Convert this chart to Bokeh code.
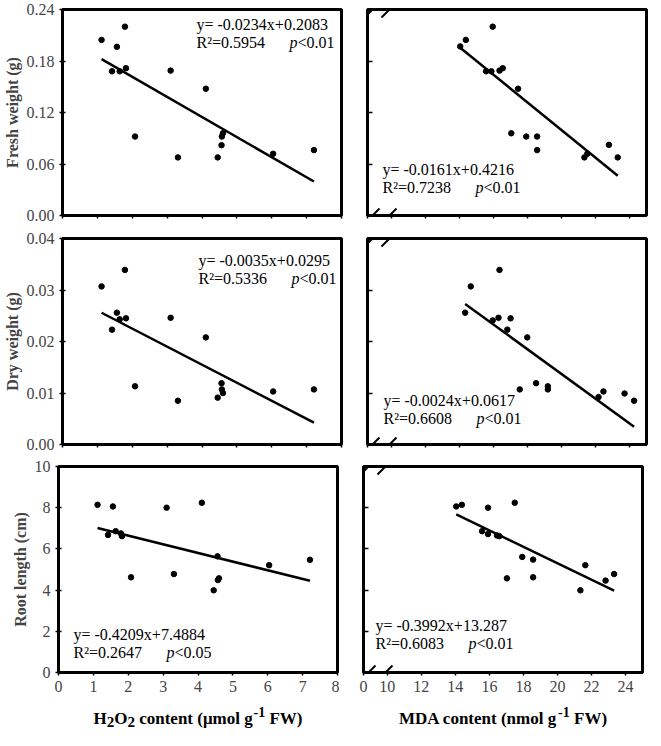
from bokeh.plotting import figure
from bokeh.layouts import column, row
from bokeh.models import (Label, Arrow, FixedTicker, CustomJSTickFormatter,
                          NumeralTickFormatter, Range1d)
from bokeh.embed import file_html
from bokeh.resources import INLINE

# ---------------- data ----------------
h2o2 = [1.12, 1.42, 1.56, 1.64, 1.79, 1.82, 2.08, 3.10, 3.31, 4.11, 4.45, 4.56, 4.57, 4.60, 6.04, 7.21]
fresh_h2o2 = [0.2046, 0.168, 0.1965, 0.168, 0.220, 0.1716, 0.092, 0.1688, 0.0677, 0.1477,
              0.0677, 0.0819, 0.092, 0.0958, 0.0719, 0.0762]
dry_h2o2 = [0.0307, 0.0223, 0.0256, 0.0243, 0.0339, 0.0245, 0.0113, 0.0246, 0.0085, 0.0208,
            0.0091, 0.0119, 0.0107, 0.0100, 0.0103, 0.0107]
root_h2o2 = [8.14, 6.68, 8.06, 6.86, 6.75, 6.62, 4.62, 8.00, 4.78, 8.24, 3.99, 5.64, 4.49, 4.57, 5.21, 5.47]

mda_fresh = [14.05, 14.38, 15.57, 15.88, 15.96, 16.36, 16.55, 17.05, 17.45, 17.93, 18.57, 18.57,
             21.35, 21.52, 22.79, 23.31]
fresh_mda = [0.197, 0.2046, 0.168, 0.168, 0.220, 0.1688, 0.1716, 0.0958, 0.1477, 0.092, 0.092,
             0.0762, 0.0677, 0.0719, 0.0823, 0.0677]
mda_dry = [14.34, 14.67, 15.96, 16.30, 16.36, 16.82, 17.01, 17.55, 17.99, 18.51, 19.20, 19.20,
           22.18, 22.47, 23.71, 24.27]
dry_mda = [0.0256, 0.0307, 0.0241, 0.0246, 0.0339, 0.0223, 0.0245, 0.0107, 0.0208, 0.0119,
           0.0113, 0.0107, 0.0092, 0.0103, 0.0099, 0.0085]
mda_root = [14.05, 14.38, 15.57, 15.92, 15.92, 16.45, 16.59, 17.03, 17.49, 17.93, 18.57, 18.57,
            21.35, 21.64, 22.83, 23.33]
root_mda = [8.06, 8.14, 6.86, 8.00, 6.72, 6.65, 6.62, 4.57, 8.24, 5.61, 5.48, 4.62, 3.99, 5.21, 4.46, 4.78]

fit_h2o2_slope = [-0.0234, -0.0035, -0.4209]
fit_h2o2_icpt = [0.2083, 0.0295, 7.4884]
fit_mda_slope = [-0.0161, -0.0024, -0.3992]
fit_mda_icpt = [0.4216, 0.0617, 13.287]

eq_h2o2 = ["y= -0.0234x+0.2083", "y= -0.0035x+0.0295", "y= -0.4209x+7.4884"]
r2_h2o2 = ["R\u00b2=0.5954", "R\u00b2=0.5336", "R\u00b2=0.2647"]
p_h2o2 = ["<0.01", "<0.01", "<0.05"]
eq_mda = ["y= -0.0161x+0.4216", "y= -0.0024x+0.0617", "y= -0.3992x+13.287"]
r2_mda = ["R\u00b2=0.7238", "R\u00b2=0.6608", "R\u00b2=0.6083"]
p_mda = ["<0.01", "<0.01", "<0.01"]

y_titles = ["Fresh weight (g)", "Dry weight (g)", "Root length (cm)"]
y_ranges = [(0, 0.24), (0, 0.04), (0, 10)]
y_ticks = [[0, 0.06, 0.12, 0.18, 0.24], [0, 0.01, 0.02, 0.03, 0.04], [0, 2, 4, 6, 8, 10]]
y_formats = ["0.00", "0.00", "0"]

h2o2_range = (0, 8)
h2o2_ticks = [0, 1, 2, 3, 4, 5, 6, 7, 8]
mda_range = (8.6, 25)          # axis is broken between 0 and 10
mda_ticks = [8.6, 10, 12, 14, 16, 18, 20, 22, 24]
mda_break_label = "0"

# x-axis titles: (text, kind) kind 0 = normal, 1 = subscript, -1 = superscript
x_title_h2o2 = [("H", 0), ("2", 1), ("O", 0), ("2", 1), ("content (\u03bcmol g", 0), ("-1", -1), ("FW)", 0)]
x_title_mda = [("MDA content (nmol g", 0), ("-1", -1), ("FW)", 0)]

# ---------------- layout / style ----------------
FONT = "Liberation Serif"
FH = 206
STRIP_H = 32
COLSPEC = [dict(bl=58, fw=279, br=2), dict(bl=24, fw=279, br=3)]
ROWB = [(9, 12), (11, 12), (10, 26)]
# equation placement: (dx from frame left, dy of first line centre from frame top)
EQPOS = [[(134, 15), (15, 160)], [(136, 22), (16, 162)], [(15, 168), (12, 159)]]
P_OFF = 93

# Times-bold advance widths (per 1000 em) for the axis titles
TB = {'H': 778, 'O': 778, '2': 500, ' ': 250, 'c': 444, 'o': 500, 'n': 556, 't': 333, 'e': 444,
      '(': 333, '\u03bc': 556, 'm': 833, 'l': 278, 'g': 500, '-': 333, '1': 500, 'F': 611,
      'W': 1000, ')': 333, 'M': 944, 'D': 722, 'A': 722}


def tw(s, size):
    return sum(TB.get(ch, 500) for ch in s) * size / 1000.0


def make_panel(r, c, xs, ys, slope, icpt, eq, r2, ptxt):
    spec = COLSPEC[c]
    top, bot = ROWB[r]
    xr = h2o2_range if c == 0 else mda_range
    yr = y_ranges[r]
    p = figure(frame_width=spec['fw'], frame_height=FH,
               x_range=Range1d(*xr), y_range=Range1d(*yr),
               min_border_left=spec['bl'], min_border_right=spec['br'],
               min_border_top=top, min_border_bottom=bot,
               toolbar_location=None, tools="", output_backend="svg")
    p.xgrid.visible = False
    p.ygrid.visible = False
    p.outline_line_color = "black"
    p.outline_line_width = 3
    p.outline_line_alpha = 1
    p.background_fill_color = "white"
    p.border_fill_color = "white"

    # x axis
    xa = p.xaxis[0]
    xa.ticker = FixedTicker(ticks=h2o2_ticks if c == 0 else mda_ticks, minor_ticks=[])
    xa.axis_line_color = None
    xa.major_tick_line_width = 1.5
    xa.major_tick_out = 3
    xa.major_tick_in = 0
    xa.major_label_text_font = FONT
    if r == 2:
        if c == 0:
            xa.formatter = NumeralTickFormatter(format="0")
        else:
            xa.formatter = CustomJSTickFormatter(args=dict(lab=mda_break_label),
                                                 code="return tick < 9.5 ? lab : tick.toFixed(0)")
        xa.major_label_text_font_size = "16px"
        xa.major_label_standoff = 5
    else:
        xa.formatter = CustomJSTickFormatter(code="return ''")
        xa.major_label_text_font_size = "1px"
        xa.major_label_standoff = 0

    # y axis
    ya = p.yaxis[0]
    ya.ticker = FixedTicker(ticks=y_ticks[r], minor_ticks=[])
    ya.axis_line_color = None
    ya.major_tick_line_width = 1.5
    ya.major_label_text_font = FONT
    if c == 0:
        ya.formatter = NumeralTickFormatter(format=y_formats[r])
        ya.major_label_text_font_size = "16px"
        ya.major_tick_out = 3
        ya.major_tick_in = 3
        ya.major_label_standoff = 5
        ya.axis_label = y_titles[r]
        ya.axis_label_text_font = FONT
        ya.axis_label_text_font_style = "bold"
        ya.axis_label_text_font_size = "16px"
        ya.axis_label_standoff = 3
    else:
        ya.formatter = CustomJSTickFormatter(code="return ''")
        ya.major_label_text_font_size = "1px"
        ya.major_label_standoff = 0
        ya.major_tick_out = 0
        ya.major_tick_in = 5

    # data
    p.scatter(xs, ys, size=5.5, color="black")
    x0, x1 = min(xs), max(xs)
    p.line([x0, x1], [slope * x0 + icpt, slope * x1 + icpt], line_width=2.5, color="black")

    # helpers px -> data
    fw = spec['fw']
    def DX(px):
        return xr[0] + px * (xr[1] - xr[0]) / fw
    def DY(px):  # px measured downward from frame top
        return yr[1] - px * (yr[1] - yr[0]) / FH

    ex, ey = EQPOS[r][c]
    common = dict(text_font=FONT, text_font_size="16px", text_color="black",
                  text_baseline="middle", text_align="left")
    p.add_layout(Label(x=DX(ex), y=DY(ey), text=eq, **common))
    p.add_layout(Label(x=DX(ex), y=DY(ey + 18), text=r2, **common))
    p.add_layout(Label(x=DX(ex), y=DY(ey + 18), x_offset=P_OFF, text="p",
                       text_font_style="italic", **common))
    p.add_layout(Label(x=DX(ex), y=DY(ey + 18), x_offset=P_OFF + 8, text=ptxt, **common))

    # axis break marks on the MDA panels
    if c == 1:
        for edge in (0, FH):
            for off in (0, 17):
                p.add_layout(Arrow(x_start=DX(-3 + off), y_start=DY(edge + 8),
                                   x_end=DX(12 + off), y_end=DY(edge - 7),
                                   start=None, end=None, line_width=2, line_color="black"))
    return p


def make_title_strip(c):
    spec = COLSPEC[c]
    xr = h2o2_range if c == 0 else mda_range
    p = figure(frame_width=spec['fw'], frame_height=STRIP_H,
               x_range=Range1d(*xr), y_range=Range1d(0, STRIP_H),
               min_border_left=spec['bl'], min_border_right=spec['br'],
               min_border_top=0, min_border_bottom=0,
               x_axis_location=None, y_axis_location=None,
               toolbar_location=None, tools="", output_backend="svg")
    p.xgrid.visible = False
    p.ygrid.visible = False
    p.outline_line_color = None
    p.background_fill_color = "white"
    p.border_fill_color = "white"
    pieces = x_title_h2o2 if c == 0 else x_title_mda
    sizes = {0: 17, 1: 15, -1: 14}
    shifts = {0: 0, 1: -3, -1: 7}
    space = tw(" ", 17)
    base = 12
    gaps = []
    prev = None
    for t, k in pieces:
        if prev == -1 and k == 0:
            gaps.append(space)          # "g-1 FW)"
        elif prev == 1 and k == 0 and t[0].islower():
            gaps.append(space)          # "H2O2 content"
        elif k == -1:
            gaps.append(1)
        else:
            gaps.append(0)
        prev = k
    total = sum(tw(t, sizes[k]) for t, k in pieces) + sum(gaps)
    cx = (xr[0] + xr[1]) / 2.0
    acc = -total / 2.0
    for (t, k), g in zip(pieces, gaps):
        acc += g
        p.add_layout(Label(x=cx, y=base + shifts[k], x_offset=acc, text=t,
                           text_font=FONT, text_font_style="bold",
                           text_font_size="%dpx" % sizes[k], text_color="black",
                           text_baseline="alphabetic", text_align="left"))
        acc += tw(t, sizes[k])
    return p


left_data = [(h2o2, fresh_h2o2), (h2o2, dry_h2o2), (h2o2, root_h2o2)]
right_data = [(mda_fresh, fresh_mda), (mda_dry, dry_mda), (mda_root, root_mda)]

rows = []
for r in range(3):
    pl = make_panel(r, 0, left_data[r][0], left_data[r][1], fit_h2o2_slope[r], fit_h2o2_icpt[r],
                    eq_h2o2[r], r2_h2o2[r], p_h2o2[r])
    pr = make_panel(r, 1, right_data[r][0], right_data[r][1], fit_mda_slope[r], fit_mda_icpt[r],
                    eq_mda[r], r2_mda[r], p_mda[r])
    rows.append(row(pl, pr, spacing=0))
rows.append(row(make_title_strip(0), make_title_strip(1), spacing=0))

layout = column(*rows, spacing=0)

with open("out.html", "w") as f:
    f.write(file_html(layout, INLINE))
